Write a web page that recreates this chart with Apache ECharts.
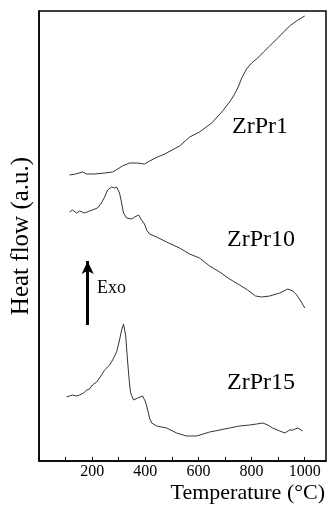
<!DOCTYPE html>
<html>
<head>
<meta charset="utf-8">
<script src="https://cdn.jsdelivr.net/npm/echarts@6/dist/echarts.min.js"></script>
<style>
  html, body { margin: 0; padding: 0; background: #fff; }
  #main { width: 331px; height: 510px; }
</style>
</head>
<body>
<div id="main"></div>
<script>
// temperature (°C) / heat flow (a.u.) pairs
var zrpr1 = [
  [115,286],[137,287],[164,289],[179,287],[209,287],[247,288],[277,289],[296,292],
  [314,295],[341,298],[371,298],[397,297],[416,300],[446,304],[473,307],[529,315],
  [567,324],[604,329],[650,338],[691,350],[717,359],[732,365],[748,373],[763,383],
  [781,392],[800,398],[823,403],[845,409],[868,415],[902,424],[943,435],[974,441],[1000,445]
];
var zrpr10 = [
  [115,249],[126,251],[141,248],[153,250],[171,248],[190,250],[201,251],[220,253],
  [235,258],[247,264],[258,271],[273,274],[284,273],[292,274],[303,268],[311,258],
  [318,248],[330,243],[348,242],[360,244],[367,242],[375,246],[386,241],[397,237],
  [405,231],[416,227],[443,224],[480,219],[529,213],[567,207],[604,203],[642,195],
  [680,189],[717,182],[755,176],[785,171],[815,165],[838,164],[868,165],[906,168],
  [936,172],[955,170],[970,166],[985,160],[1000,153]
];
var zrpr15 = [
  [104,64],[115,65],[126,66],[141,65],[153,66],[168,68],[179,71],[190,72],[201,76],
  [217,79],[228,83],[247,91],[266,96],[277,101],[292,109],[303,121],[311,131],
  [318,137],[322,136],[326,126],[333,101],[341,76],[345,68],[356,61],[371,63],
  [390,65],[401,59],[409,51],[416,43],[424,38],[443,35],[480,33],[518,28],[555,25],
  [593,25],[642,29],[680,31],[717,33],[755,35],[793,36],[819,37],[842,38],[861,36],
  [879,33],[906,30],[925,28],[943,31],[955,31],[974,33],[992,30]
];
var xLabels = [200, 400, 600, 800, 1000];
var exoArrow = [[183, 136], [183, 200]];

var serif = 'Liberation Serif';
var chart = echarts.init(document.getElementById('main'));

function curve(data, extra) {
  var s = {
    type: 'line',
    data: data,
    showSymbol: false,
    smooth: false,
    lineStyle: { color: '#333', width: 1 }
  };
  return Object.assign(s, extra || {});
}

var option = {
  animation: false,
  grid: {
    left: 39, right: 5, top: 11, bottom: 49,
    show: true, borderColor: '#000', borderWidth: 1.5
  },
  xAxis: {
    type: 'value',
    min: 0, max: 1080, interval: 100,
    name: 'Temperature (°C)',
    nameLocation: 'end',
    nameGap: -1,
    nameTextStyle: {
      fontFamily: serif, fontSize: 22, color: '#000',
      align: 'right', verticalAlign: 'top', padding: [21, 0, 0, 0]
    },
    axisLine: { lineStyle: { color: '#000', width: 1.5 } },
    axisTick: { inside: true, length: 4, lineStyle: { color: '#000' } },
    axisLabel: {
      fontFamily: serif, fontSize: 16, color: '#000', margin: 3,
      showMaxLabel: false,
      formatter: function (v) { return xLabels.indexOf(v) >= 0 ? String(v) : ''; }
    },
    splitLine: { show: false }
  },
  yAxis: {
    type: 'value',
    min: 0, max: 450,
    name: 'Heat flow (a.u.)',
    nameLocation: 'middle',
    nameGap: 5,
    nameTextStyle: { fontFamily: serif, fontSize: 25, color: '#000' },
    axisLine: { show: true, lineStyle: { color: '#000', width: 1.5 } },
    axisTick: { show: false },
    axisLabel: { show: false },
    splitLine: { show: false }
  },
  series: [
    curve(zrpr1),
    curve(zrpr10, {
      markLine: {
        silent: true,
        symbol: ['none', 'arrow'],
        symbolSize: [9, 13],
        label: { show: false },
        lineStyle: { color: '#000', width: 3, type: 'solid' },
        data: [[{ coord: exoArrow[0] }, { coord: exoArrow[1] }]]
      }
    }),
    curve(zrpr15)
  ],
  graphic: [
    { type: 'text', left: 232, top: 115, style: { text: 'ZrPr1', font: '24px "Liberation Serif"', fill: '#000' } },
    { type: 'text', left: 227, top: 228, style: { text: 'ZrPr10', font: '24px "Liberation Serif"', fill: '#000' } },
    { type: 'text', left: 227, top: 371, style: { text: 'ZrPr15', font: '24px "Liberation Serif"', fill: '#000' } },
    { type: 'text', left: 97, top: 279, style: { text: 'Exo', font: '18px "Liberation Serif"', fill: '#000' } }
  ]
};
chart.setOption(option);
</script>
</body>
</html>
